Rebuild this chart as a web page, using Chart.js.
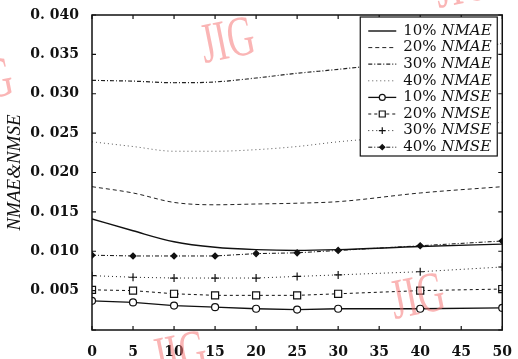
<!DOCTYPE html>
<html>
<head>
<meta charset="utf-8">
<script src="https://cdn.jsdelivr.net/npm/chart.js@4"></script>
<style>
  html, body { margin: 0; padding: 0; background: #fff; }
  #wrap { width: 518px; height: 359px; }
</style>
</head>
<body>
<div id="wrap"><canvas id="myChart"></canvas></div>
<script>
// data

const xValues = [0, 5, 10, 15, 20, 25, 30, 40, 50];

const nmae10 = [0.0141, 0.0126, 0.0112, 0.0105, 0.0102, 0.0101, 0.0102, 0.0106, 0.0109];
const nmae20 = [0.0182, 0.0174, 0.0162, 0.0159, 0.0160, 0.0161, 0.0163, 0.0174, 0.0182];
const nmae30 = [0.0317, 0.0316, 0.0314, 0.0315, 0.0320, 0.0326, 0.0331, 0.0343, 0.0364];
const nmae40 = [0.0239, 0.0233, 0.0227, 0.0227, 0.0229, 0.0233, 0.0239, 0.0248, 0.0264];

const nmse10 = [0.0037, 0.0035, 0.0031, 0.0029, 0.0027, 0.0026, 0.0027, 0.0027, 0.0028];
const nmse20 = [0.0051, 0.0050, 0.0046, 0.0044, 0.0044, 0.0044, 0.0046, 0.0050, 0.0052];
const nmse30 = [0.0069, 0.0067, 0.0066, 0.0066, 0.0066, 0.0068, 0.0070, 0.0074, 0.0080];
const nmse40 = [0.0095, 0.0094, 0.0094, 0.0094, 0.0097, 0.0098, 0.0101, 0.0107, 0.0113];

const rates = ['10%', '20%', '30%', '40%', '10%', '20%', '30%', '40%'];
const metrics = ['NMAE', 'NMAE', 'NMAE', 'NMAE', 'NMSE', 'NMSE', 'NMSE', 'NMSE'];

const yTickValues = [0, 0.005, 0.01, 0.015, 0.02, 0.025, 0.03, 0.035, 0.04];
const yTickLabels = ['', '0. 005', '0. 010', '0. 015', '0. 020', '0. 025', '0. 030', '0. 035', '0. 040'];

const toPoints = (ys) => xValues.map((x, i) => ({ x: x, y: ys[i] }));

// dataset styles

const styles = [
  { data: nmae10, width: 1.4, dash: [], point: false, smooth: true, color: '#111' },
  { data: nmae20, width: 1, dash: [4, 3], point: false, smooth: true, color: '#222' },
  { data: nmae30, width: 1.2, dash: [4, 2, 1, 2], point: false, smooth: true, color: '#222' },
  { data: nmae40, width: 1, dash: [1, 3], point: false, smooth: true, color: '#555' },
  { data: nmse10, width: 1.3, dash: [], point: 'circle', radius: 3.5, fill: '#fff', color: '#111' },
  { data: nmse20, width: 1, dash: [3, 3], point: 'rect', radius: 5, fill: '#fff', color: '#111' },
  { data: nmse30, width: 1, dash: [1, 3], point: 'cross', radius: 4, fill: '#111', color: '#222' },
  { data: nmse40, width: 1, dash: [4, 2, 1, 2], point: 'rectRot', radius: 3, fill: '#111', color: '#111' },
];

const datasets = styles.map((s, i) => ({
  label: rates[i] + ' ' + metrics[i],
  data: toPoints(s.data),
  borderColor: s.color,
  borderWidth: s.width,
  borderDash: s.dash,
  backgroundColor: s.fill || '#fff',
  pointStyle: s.point || 'circle',
  pointRadius: s.point ? s.radius : 0,
  pointBorderColor: '#111',
  pointBorderWidth: 1.2,
  pointBackgroundColor: s.fill || '#fff',
  cubicInterpolationMode: s.smooth ? 'monotone' : 'default',
  tension: 0,
  fill: false,
}));

// small marker drawer for the legend
function drawMarker(ctx, style, x, y, r, fill) {
  ctx.save();
  ctx.setLineDash([]);
  ctx.lineWidth = 1.2;
  ctx.strokeStyle = '#111';
  ctx.fillStyle = fill;
  ctx.beginPath();
  if (style === 'circle') {
    ctx.arc(x, y, r, 0, Math.PI * 2);
    ctx.fill(); ctx.stroke();
  } else if (style === 'rect') {
    const s = r * Math.SQRT1_2;
    ctx.rect(x - s, y - s, 2 * s, 2 * s);
    ctx.fill(); ctx.stroke();
  } else if (style === 'cross') {
    ctx.moveTo(x - r, y); ctx.lineTo(x + r, y);
    ctx.moveTo(x, y - r); ctx.lineTo(x, y + r);
    ctx.stroke();
  } else if (style === 'rectRot') {
    ctx.moveTo(x, y - r); ctx.lineTo(x + r, y); ctx.lineTo(x, y + r); ctx.lineTo(x - r, y);
    ctx.closePath();
    ctx.fill(); ctx.stroke();
  }
  ctx.restore();
}

// frame with inward ticks, boxed legend, watermark

const framePlugin = {
  id: 'frame',
  afterDatasetsDraw(chart) {
    const ctx = chart.ctx;
    const a = chart.chartArea;
    const xs = chart.scales.x;
    const ys = chart.scales.y;
    ctx.save();
    ctx.strokeStyle = '#111';
    ctx.lineWidth = 1.5;
    ctx.setLineDash([]);
    ctx.strokeRect(a.left, a.top, a.right - a.left, a.bottom - a.top);
    ctx.lineWidth = 1.2;
    ctx.beginPath();
    xs.ticks.forEach(t => {
      const px = xs.getPixelForValue(t.value);
      ctx.moveTo(px, a.bottom); ctx.lineTo(px, a.bottom - 4);
      ctx.moveTo(px, a.top); ctx.lineTo(px, a.top + 4);
    });
    ys.ticks.forEach(t => {
      const py = ys.getPixelForValue(t.value);
      ctx.moveTo(a.left, py); ctx.lineTo(a.left + 4, py);
      ctx.moveTo(a.right, py); ctx.lineTo(a.right - 4, py);
    });
    ctx.stroke();

    // legend box
    const bx = a.right - 142, by = a.top + 2, bw = 137, bh = 139;
    ctx.fillStyle = '#fff';
    ctx.fillRect(bx, by, bw, bh);
    ctx.lineWidth = 1.2;
    ctx.strokeRect(bx, by, bw, bh);
    styles.forEach((s, i) => {
      const y = by + 14 + i * 16.6;
      ctx.save();
      ctx.strokeStyle = s.color;
      ctx.lineWidth = s.width;
      ctx.setLineDash(s.dash);
      ctx.beginPath();
      ctx.moveTo(bx + 8, y); ctx.lineTo(bx + 36, y);
      ctx.stroke();
      ctx.restore();
      if (s.point) drawMarker(ctx, s.point, bx + 22, y, s.radius * 0.85, s.fill);
      ctx.fillStyle = '#111';
      ctx.textBaseline = 'middle';
      ctx.font = '15px "DejaVu Serif"';
      const t1 = rates[i] + ' ';
      ctx.fillText(t1, bx + 43, y);
      const w1 = ctx.measureText(t1).width;
      ctx.font = 'italic 15px "DejaVu Serif"';
      ctx.fillText(metrics[i], bx + 43 + w1, y);
    });
    ctx.restore();
  },
  afterDraw(chart) {
    const ctx = chart.ctx;
    const marks = [[228, 43], [418, 299], [180, 357], [-14, 84], [462, -12]];
    ctx.save();
    ctx.fillStyle = 'rgba(246, 120, 120, 0.55)';
    ctx.textAlign = 'center';
    ctx.textBaseline = 'middle';
    ctx.font = '44px "Liberation Serif"';
    marks.forEach(m => {
      ctx.save();
      ctx.translate(m[0], m[1]);
      ctx.rotate(-0.2);
      ctx.scale(0.85, 1.3);
      ctx.fillText('JIG', 0, 0);
      ctx.restore();
    });
    ctx.restore();
  }
};

const tickFont = { family: 'DejaVu Serif', size: 14, weight: 'bold' };

const config = {
  type: 'line',
  data: { datasets: datasets },
  options: {
    responsive: true,
    maintainAspectRatio: false,
    animation: false,
    layout: { padding: { top: 15, right: 9, left: 0, bottom: 0 } },
    plugins: {
      legend: { display: false },
      tooltip: { enabled: false },
    },
    scales: {
      x: {
        type: 'linear',
        min: 0,
        max: 50,
        grid: { display: false },
        border: { display: false },
        ticks: { stepSize: 5, color: '#111', font: tickFont, padding: 6, maxRotation: 0 },
        afterFit: (scale) => { scale.height = 29; },
      },
      y: {
        min: 0,
        max: 0.04,
        grid: { display: false },
        border: { display: false },
        afterBuildTicks: (scale) => { scale.ticks = yTickValues.map(v => ({ value: v })); },
        ticks: {
          color: '#111',
          font: tickFont,
          padding: 5,
          callback: (v, i) => yTickLabels[i],
        },
        title: {
          display: true,
          text: 'NMAE&NMSE',
          color: '#111',
          font: { family: 'Liberation Serif', size: 19, style: 'italic' },
        },
        afterFit: (scale) => { scale.width = 92; },
      },
    },
  },
  plugins: [framePlugin],
};

var myChart = new Chart(document.getElementById('myChart'), config);
</script>
</body>
</html>
